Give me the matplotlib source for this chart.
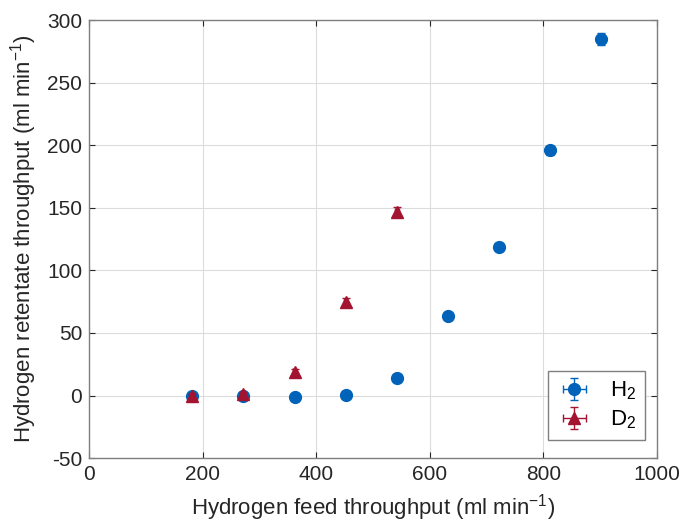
import numpy as np
import matplotlib
matplotlib.use("Agg")
import matplotlib.pyplot as plt

plt.rcParams['font.family'] = ['Liberation Sans', 'DejaVu Sans']
plt.rcParams['axes.unicode_minus'] = False
plt.rcParams['mathtext.fontset'] = 'custom'
plt.rcParams['mathtext.rm'] = 'Liberation Sans'
plt.rcParams['mathtext.it'] = 'Liberation Sans'
plt.rcParams['mathtext.default'] = 'regular'

# feed throughput (ml/min)
h2_feed = [181, 271, 362, 452, 542, 632, 722, 812, 902]
h2_retentate = [-0.5, -0.5, -0.8, 0.8, 14, 63.5, 119, 196, 285]
h2_yerr = [1.5, 1.5, 1.5, 1.5, 2, 2.5, 3, 3.5, 4.5]
h2_xerr = [3, 3, 3, 3, 3, 3, 3, 3, 3]

d2_feed = [181, 271, 362, 452, 542]
d2_retentate = [-0.5, 1, 19, 75, 147]
d2_yerr = [2, 2, 2.5, 3, 3.5]
d2_xerr = [3, 3, 3, 3, 3]

blue = '#0062B8'
red = '#A2142F'
axcol = '#262626'

fig = plt.figure(figsize=(6.81, 5.29), dpi=100)
ax = fig.add_axes([0.1307, 0.134, 0.834, 0.828])

ax.errorbar(h2_feed, h2_retentate, yerr=h2_yerr, xerr=h2_xerr, fmt='o', color=blue,
            markersize=8.5, capsize=3, elinewidth=1, label='H$_2$', zorder=3)
ax.errorbar(d2_feed, d2_retentate, yerr=d2_yerr, xerr=d2_xerr, fmt='^', color=red,
            markersize=8.5, capsize=3, elinewidth=1, label='D$_2$', zorder=4)

ax.set_xlim(0, 1000)
ax.set_ylim(-50, 300)
ax.set_xticks(np.arange(0, 1001, 200))
ax.set_yticks(np.arange(-50, 301, 50))
ax.grid(True, color='#dcdcdc', linewidth=0.8)
ax.set_axisbelow(True)
ax.tick_params(direction='in', length=4, labelsize=15, colors=axcol, top=True, right=True,
               labeltop=False, labelright=False, pad=5)
for s in ax.spines.values():
    s.set_color('#7f7f7f')
    s.set_linewidth(1.0)

ax.set_xlabel('Hydrogen feed throughput (ml min$^{-1}$)', fontsize=16, color=axcol, labelpad=6)
ax.set_ylabel('Hydrogen retentate throughput (ml min$^{-1}$)', fontsize=16, color=axcol, labelpad=6)

leg = ax.legend(loc='lower right', fontsize=16, fancybox=False, framealpha=1,
                edgecolor='#7f7f7f', handlelength=1.6, handletextpad=0.8, borderpad=0.4,
                labelspacing=0.3, borderaxespad=0, bbox_to_anchor=(0.979, 0.041))
leg.get_frame().set_linewidth(1.0)

fig.savefig('out.png', dpi=100)
